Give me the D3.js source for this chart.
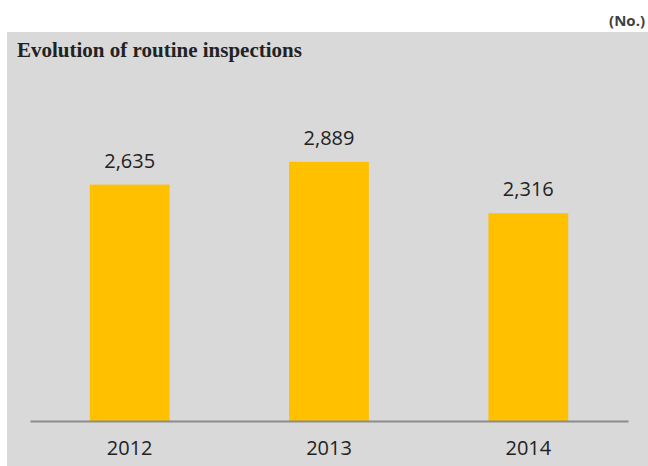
<!DOCTYPE html>
<html>
<head>
<meta charset="utf-8">
<script src="https://cdn.jsdelivr.net/npm/d3@7"></script>
<style>
  body { margin: 0; background: #fff; }
  svg { display: block; }
</style>
</head>
<body>
<div id="chart"></div>
<script>
var years = ['2012', '2013', '2014'];
var inspections = [2635, 2889, 2316];

var width = 648, height = 466;

var svg = d3.select('#chart').append('svg')
    .attr('width', width)
    .attr('height', height);

// grey panel behind the chart
svg.append('rect')
    .attr('x', 7).attr('y', 32)
    .attr('width', width - 7).attr('height', height - 32)
    .attr('fill', '#d9d9d9');

svg.append('text')
    .attr('x', 645).attr('y', 26)
    .attr('text-anchor', 'end')
    .style('font-family', 'Open Sans, sans-serif')
    .style('font-weight', 'bold')
    .style('font-size', '15px')
    .attr('fill', '#3f3f3f')
    .text('(No.)');

svg.append('text')
    .attr('x', 17).attr('y', 57)
    .style('font-family', 'Liberation Serif, serif')
    .style('font-weight', 'bold')
    .style('font-size', '21px')
    .attr('fill', '#222')
    .text('Evolution of routine inspections');

var x = d3.scaleBand()
    .domain(years)
    .range([30, 628])
    .paddingInner(0.6)
    .paddingOuter(0.3);

var y = d3.scaleLinear()
    .domain([0, 3500])
    .range([421, 107]);

var fmt = d3.format(',');

svg.append('g')
    .selectAll('rect')
    .data(inspections)
    .enter()
    .append('rect')
    .attr('x', (d, i) => x(years[i]))
    .attr('y', d => y(d))
    .attr('width', x.bandwidth())
    .attr('height', d => y(0) - y(d))
    .attr('fill', '#ffc000');

svg.append('g')
    .selectAll('text')
    .data(inspections)
    .enter()
    .append('text')
    .attr('x', (d, i) => x(years[i]) + x.bandwidth() / 2)
    .attr('y', d => y(d) - 17)
    .attr('text-anchor', 'middle')
    .style('font-family', 'Open Sans, sans-serif')
    .style('font-size', '20px')
    .attr('fill', '#222')
    .text(d => fmt(d));

// x axis: plain line plus year labels, no ticks
var axis = svg.append('g')
    .attr('transform', 'translate(0,421)')
    .call(d3.axisBottom(x).tickSize(0).tickPadding(20));
axis.select('.domain')
    .attr('stroke', '#8c8c8c')
    .attr('stroke-width', 2);
axis.selectAll('text')
    .style('font-family', 'Open Sans, sans-serif')
    .style('font-size', '20px')
    .attr('fill', '#222');
</script>
</body>
</html>
